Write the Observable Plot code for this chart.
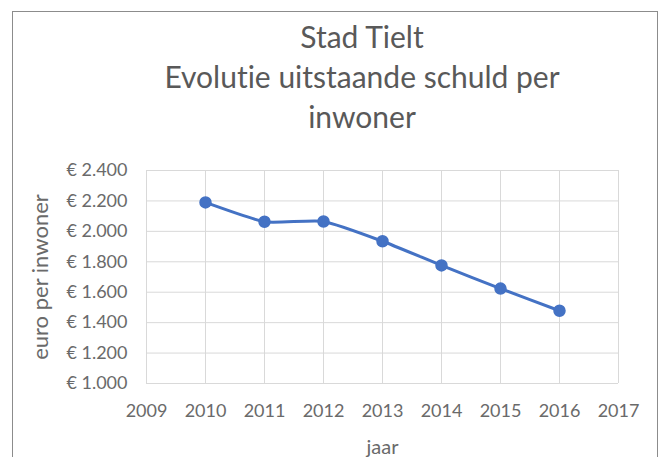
<!DOCTYPE html>
<html>
<head>
<meta charset="utf-8">
<script src="https://cdn.jsdelivr.net/npm/d3@7"></script>
<script src="https://cdn.jsdelivr.net/npm/@observablehq/plot@0.6"></script>
<style>
  html, body { margin: 0; padding: 0; background: #fff; width: 663px; height: 457px; overflow: hidden; }
  #frame { position: absolute; left: 12px; top: 11px; width: 646px; height: 460px; border: 1.5px solid #8c8c8c; box-sizing: border-box; }
  #title { position: absolute; left: 0; top: 16px; width: 724px; text-align: center; font-family: Lato, sans-serif; font-size: 30px; line-height: 40px; color: #595959; font-variant-ligatures: none; font-feature-settings: "liga" 0; }
  #chart { position: absolute; left: 0; top: 150px; }
  #chart svg text { font-family: Lato, sans-serif; font-variant-ligatures: none; }
  #chart svg g[aria-label="x-axis tick label"] text,
  #chart svg g[aria-label="y-axis tick label"] text { font-size: 18px; }
  #chart svg g[aria-label="x-axis label"] text { font-size: 20px; }
  #chart svg g[aria-label="y-axis label"] text { font-size: 22px; }
</style>
</head>
<body>
<div id="frame"></div>
<div id="title">Stad Tielt<br>Evolutie uitstaande schuld per<br>inwoner</div>
<div id="chart"></div>
<script>
const years = [2010, 2011, 2012, 2013, 2014, 2015, 2016];
const debtPerInhabitant = [2190, 2063, 2065, 1935, 1776, 1624, 1478];
const xTicks = [2009, 2010, 2011, 2012, 2013, 2014, 2015, 2016, 2017];
const yTicks = [1000, 1200, 1400, 1600, 1800, 2000, 2200, 2400];

const data = years.map((y, i) => ({year: y, value: debtPerInhabitant[i]}));
const fmt = v => "€ " + d3.format(",")(v).replace(/,/g, ".");

const chart = Plot.plot({
  width: 663,
  height: 307,
  marginLeft: 146,
  marginRight: 45,
  marginTop: 20,
  marginBottom: 74,
  style: {fontSize: "16px", color: "#6a6a6a", background: "transparent"},
  x: {domain: [2009, 2017], ticks: xTicks, tickFormat: d => String(d)},
  y: {domain: [1000, 2400], ticks: yTicks, tickFormat: fmt},
  marks: [
    Plot.gridX(xTicks, {stroke: "#d9d9d9", strokeOpacity: 1, strokeWidth: 1}),
    Plot.gridY(yTicks, {stroke: "#d9d9d9", strokeOpacity: 1, strokeWidth: 1}),
    Plot.axisX({ticks: xTicks, tickSize: 0, tickPadding: 21, tickFormat: d => String(d), label: "jaar", labelAnchor: "center", labelArrow: "none", labelOffset: 70}),
    Plot.axisY({ticks: yTicks, tickSize: 0, tickPadding: 19, tickFormat: fmt, label: "euro per inwoner", labelAnchor: "center", labelArrow: "none", labelOffset: 114}),
    Plot.line(data, {x: "year", y: "value", stroke: "#4472c4", strokeWidth: 3, curve: "cardinal", tension: 0.5}),
    Plot.dot(data, {x: "year", y: "value", r: 5.5, fill: "#4472c4", stroke: "#4472c4"})
  ]
});
document.getElementById("chart").appendChild(chart);
</script>
</body>
</html>
